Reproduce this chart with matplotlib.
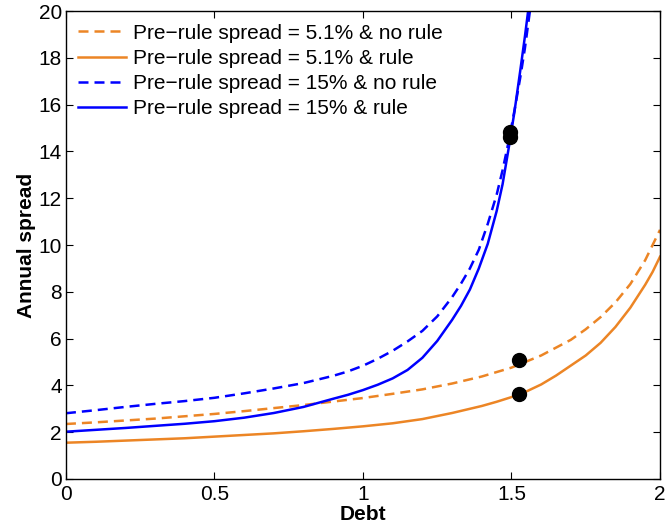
import matplotlib
matplotlib.use("Agg")
import matplotlib.pyplot as plt

plt.rcParams['font.family'] = ['Liberation Sans', 'DejaVu Sans']

# values
debt_orange_norule = [0.0, 0.1, 0.2, 0.3, 0.4, 0.5, 0.6, 0.7, 0.8, 0.9, 1.0, 1.1, 1.2, 1.3, 1.4,
                      1.5, 1.6, 1.7, 1.75, 1.8, 1.85, 1.9, 1.95, 2.0]
spread_orange_norule = [2.35, 2.42, 2.50, 2.58, 2.68, 2.78, 2.90, 3.03, 3.16, 3.31, 3.46, 3.64, 3.83,
                        4.08, 4.38, 4.76, 5.28, 5.95, 6.40, 6.92, 7.55, 8.33, 9.35, 10.65]

debt_orange_rule = [0.0, 0.1, 0.2, 0.3, 0.4, 0.5, 0.6, 0.7, 0.8, 0.9, 1.0, 1.1, 1.2, 1.3, 1.4,
                    1.45, 1.5, 1.55, 1.6, 1.65, 1.7, 1.75, 1.8, 1.85, 1.9, 1.95, 1.975, 2.0]
spread_orange_rule = [1.55, 1.59, 1.64, 1.69, 1.74, 1.81, 1.88, 1.95, 2.04, 2.14, 2.25, 2.38, 2.56,
                      2.82, 3.12, 3.30, 3.50, 3.74, 4.04, 4.42, 4.85, 5.28, 5.82, 6.50, 7.32, 8.30,
                      8.85, 9.50]

debt_blue_norule = [0.0, 0.1, 0.2, 0.3, 0.4, 0.5, 0.6, 0.7, 0.8, 0.9, 0.95, 1.0, 1.05, 1.1, 1.15,
                    1.2, 1.25, 1.3, 1.33, 1.36, 1.39, 1.42, 1.45, 1.47, 1.49, 1.51, 1.53, 1.545, 1.562]
spread_blue_norule = [2.81, 2.94, 3.08, 3.21, 3.33, 3.47, 3.66, 3.87, 4.10, 4.41, 4.60, 4.84, 5.14,
                      5.48, 5.88, 6.33, 6.95, 7.77, 8.35, 9.00, 9.80, 10.90, 12.15, 13.20, 14.40,
                      15.75, 17.20, 18.40, 20.0]

debt_blue_rule = [0.0, 0.1, 0.2, 0.3, 0.4, 0.5, 0.6, 0.7, 0.8, 0.9, 0.95, 1.0, 1.05, 1.1, 1.15,
                  1.2, 1.25, 1.3, 1.33, 1.36, 1.39, 1.42, 1.45, 1.47, 1.49, 1.51, 1.53, 1.545, 1.557]
spread_blue_rule = [2.02, 2.10, 2.18, 2.27, 2.36, 2.47, 2.62, 2.82, 3.08, 3.43, 3.60, 3.80, 4.03,
                    4.30, 4.66, 5.18, 5.90, 6.80, 7.40, 8.10, 9.00, 10.05, 11.45, 12.60, 14.10,
                    15.70, 17.50, 18.90, 20.10]

dot_debt = [1.495, 1.495, 1.525, 1.525]
dot_spread = [14.85, 14.6, 5.1, 3.62]

labels = ["Pre\u2212rule spread = 5.1% & no rule",
          "Pre\u2212rule spread = 5.1% & rule",
          "Pre\u2212rule spread = 15% & no rule",
          "Pre\u2212rule spread = 15% & rule"]

orange = '#EC8525'
blue = '#0000FF'
dash = (0, (4, 2.4))

fig = plt.figure(figsize=(6.66, 5.31), dpi=100)
ax = fig.add_axes([0.099, 0.098, 0.892, 0.881])

ax.plot(debt_orange_norule, spread_orange_norule, color=orange, lw=1.8, linestyle=dash, label=labels[0])
ax.plot(debt_orange_rule, spread_orange_rule, color=orange, lw=1.8, label=labels[1])
ax.plot(debt_blue_norule, spread_blue_norule, color=blue, lw=1.8, linestyle=dash, label=labels[2])
ax.plot(debt_blue_rule, spread_blue_rule, color=blue, lw=1.8, label=labels[3])
ax.plot(dot_debt, dot_spread, 'o', color='black', markersize=10, linestyle='none')

ax.set_xlim(0, 2)
ax.set_ylim(0, 20)
ax.set_xticks([0, 0.5, 1, 1.5, 2])
ax.set_xticklabels(['0', '0.5', '1', '1.5', '2'])
ax.set_yticks(range(0, 21, 2))
ax.tick_params(direction='in', top=True, right=True, length=5, width=0.8, labelsize=15)
ax.tick_params(axis='x', pad=4)
ax.tick_params(axis='y', pad=3)
for s in ax.spines.values():
    s.set_linewidth(1.0)

ax.set_xlabel('Debt', fontsize=15, fontweight='bold', labelpad=1)
ax.set_ylabel('Annual spread', fontsize=15, fontweight='bold', labelpad=2)

ax.legend(loc='upper left', frameon=False, fontsize=15, handlelength=2.3,
          labelspacing=0.3, handletextpad=0.33, borderaxespad=0.3, borderpad=0.3)

fig.savefig('out.png', dpi=100)
